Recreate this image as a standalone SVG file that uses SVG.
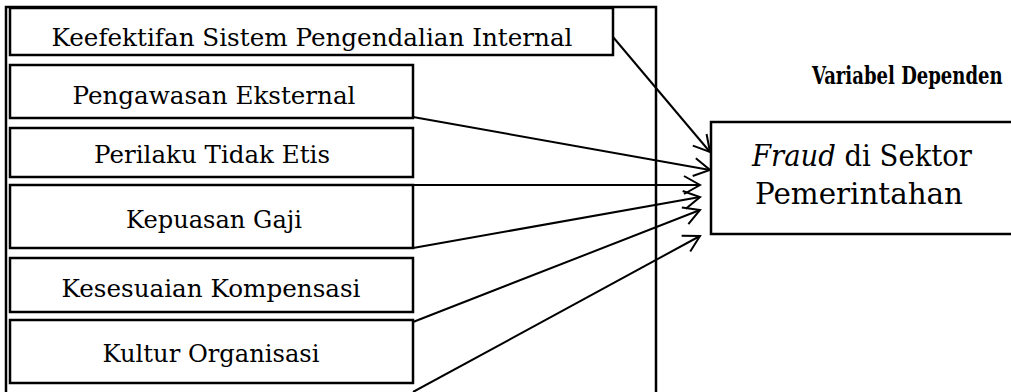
<svg xmlns="http://www.w3.org/2000/svg" width="1011" height="392" viewBox="0 0 1011 392">
<style>
.box{fill:#fff;stroke:#000;stroke-width:2.5}
.frame{fill:none;stroke:#000;stroke-width:2.5}
.t{font-family:"DejaVu Serif","Liberation Serif",serif;font-size:25px;fill:#000;text-anchor:middle}
.big{font-family:"DejaVu Serif","Liberation Serif",serif;font-size:29px;fill:#000;text-anchor:middle}
.hd{font-family:"DejaVu Serif Condensed","DejaVu Serif","Liberation Serif",serif;font-size:24px;font-weight:bold;fill:#000}
.c{stroke:#000;stroke-width:2;fill:none;marker-end:url(#arr)}
</style>
<defs>
<marker id="arr" markerUnits="userSpaceOnUse" markerWidth="24" markerHeight="24" viewBox="0 0 24 24" refX="22" refY="12" orient="auto">
<path d="M6,3 L22,12 L6,21" fill="none" stroke="#000" stroke-width="2"/>
</marker>
</defs>
<rect class="frame" x="6" y="7" width="650" height="400"/>
<g id="n1"><rect class="box" x="10" y="8" width="603" height="47"/><text class="t" x="312" y="46" textLength="521" lengthAdjust="spacingAndGlyphs">Keefektifan Sistem Pengendalian Internal</text></g>
<g id="n2"><rect class="box" x="10" y="65" width="403" height="53"/><text class="t" x="214" y="104" textLength="283" lengthAdjust="spacingAndGlyphs">Pengawasan Eksternal</text></g>
<g id="n3"><rect class="box" x="10" y="128" width="403" height="49"/><text class="t" x="212" y="163" textLength="236" lengthAdjust="spacingAndGlyphs">Perilaku Tidak Etis</text></g>
<g id="n4"><rect class="box" x="10" y="185" width="403" height="63"/><text class="t" x="214" y="228" textLength="176" lengthAdjust="spacingAndGlyphs">Kepuasan Gaji</text></g>
<g id="n5"><rect class="box" x="10" y="258" width="403" height="54"/><text class="t" x="211" y="297" textLength="299" lengthAdjust="spacingAndGlyphs">Kesesuaian Kompensasi</text></g>
<g id="n6"><rect class="box" x="10" y="320" width="403" height="63"/><text class="t" x="211" y="362" textLength="217" lengthAdjust="spacingAndGlyphs">Kultur Organisasi</text></g>
<g id="hdr"><text class="hd" transform="translate(812,84) scale(0.84,1)" x="0" y="0" textLength="227" lengthAdjust="spacingAndGlyphs">Variabel Dependen</text></g>
<g id="dep"><rect class="box" x="711" y="122" width="320" height="112"/><text class="big" x="862" y="166" textLength="220" lengthAdjust="spacingAndGlyphs"><tspan font-style="italic">Fraud</tspan> di Sektor</text><text class="big" x="859" y="204" textLength="208" lengthAdjust="spacingAndGlyphs">Pemerintahan</text></g>
<g id="connectors">
<line class="c" x1="613" y1="37" x2="710" y2="152"/>
<line class="c" x1="413" y1="117" x2="710" y2="170"/>
<line class="c" x1="413" y1="185" x2="700" y2="185"/>
<line class="c" x1="413" y1="248" x2="700" y2="197"/>
<line class="c" x1="413" y1="322" x2="700" y2="210"/>
<line class="c" x1="413" y1="392" x2="700" y2="236"/>
</g>
</svg>
